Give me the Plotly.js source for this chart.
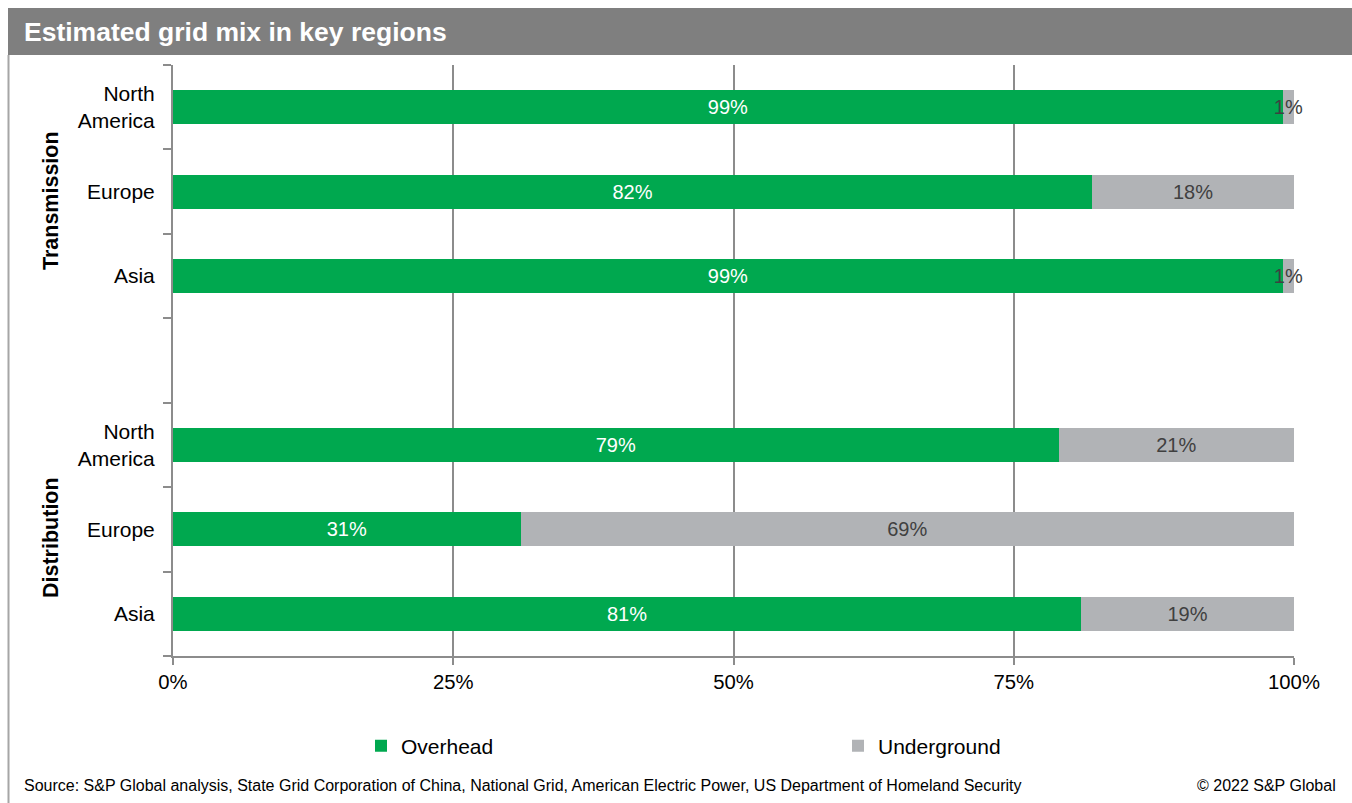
<!DOCTYPE html>
<html>
<head>
<meta charset="utf-8">
<script src="https://cdn.plot.ly/plotly-3.0.1.min.js"></script>
<style>
  html, body { margin: 0; padding: 0; background: #fff; }
  #chart { width: 1352px; height: 803px; }
</style>
</head>
<body>
<div id="chart"></div>
<script>
// Category keys (top to bottom) and their tick labels
const categories = ['T_NA', 'T_EU', 'T_AS', 'GAP', 'D_NA', 'D_EU', 'D_AS'];
const tickLabels = ['North<br>America', 'Europe', 'Asia', '', 'North<br>America', 'Europe', 'Asia'];
// Series values (%)
const overhead    = [99, 82, 99, null, 79, 31, 81];
const underground = [1, 18, 1, null, 21, 69, 19];
const seriesNames = ['Overhead', 'Underground'];
const groupLabels = ['Transmission', 'Distribution'];
const xTicks = [0, 25, 50, 75, 100];

const FONT = 'Liberation Sans, Arial, sans-serif';
const GREEN = '#00a84f';
const GREY = '#b1b3b6';

// pixel helpers -> paper coords
const W = 1352, H = 803, L = 173, R = 58, T = 65, B = 147;
const pw = W - L - R, ph = H - T - B;
const px = x => (x - L) / pw;
const py = y => (H - B - y) / ph;

const common = {
  type: 'bar', orientation: 'h', y: categories,
  textposition: 'inside', insidetextanchor: 'middle', constraintext: 'none',
  texttemplate: '%{x}%', textangle: 0, hoverinfo: 'skip', cliponaxis: false
};

const traces = [
  Object.assign({}, common, {
    name: seriesNames[0], x: overhead,
    marker: { color: GREEN, line: { width: 0 } },
    textfont: { family: FONT, size: 20, color: '#ffffff' },
    insidetextfont: { family: FONT, size: 20, color: '#ffffff' }
  }),
  Object.assign({}, common, {
    name: seriesNames[1], x: underground,
    marker: { color: GREY, line: { width: 0 } },
    textfont: { family: FONT, size: 20, color: '#404040' },
    insidetextfont: { family: FONT, size: 20, color: '#404040' }
  })
];

const layout = {
  width: W, height: H,
  margin: { l: L, r: R, t: T, b: B, pad: 0 },
  paper_bgcolor: '#ffffff', plot_bgcolor: '#ffffff',
  font: { family: FONT, size: 20, color: '#000000' },
  barmode: 'stack', bargap: 0.6,
  showlegend: true,
  title: {
    text: '<b>Estimated grid mix in key regions</b>',
    x: 24 / W, xanchor: 'left', xref: 'container',
    y: 1 - 32 / H, yanchor: 'middle', yref: 'container',
    font: { family: FONT, size: 26.5, color: '#ffffff' }
  },
  xaxis: {
    range: [0, 100], tickvals: xTicks, ticktext: xTicks.map(v => v + '%'),
    showgrid: true, gridcolor: '#8c8c8c', gridwidth: 2,
    zeroline: false, showline: true, linecolor: '#8c8c8c', linewidth: 2,
    ticks: 'outside', ticklen: 7, tickwidth: 2, tickcolor: '#8c8c8c',
    tickfont: { family: FONT, size: 20.3, color: '#000000' },
    fixedrange: true
  },
  yaxis: {
    type: 'category', categoryorder: 'array', categoryarray: categories,
    autorange: 'reversed',
    tickvals: categories, ticktext: tickLabels, tickson: 'boundaries',
    showgrid: false, zeroline: false,
    showline: true, linecolor: '#8c8c8c', linewidth: 2,
    ticks: 'outside', ticklen: 8, tickwidth: 2, tickcolor: '#8c8c8c',
    ticklabelstandoff: 12,
    tickfont: { family: FONT, size: 21, color: '#000000' },
    fixedrange: true
  },
  legend: {
    orientation: 'h', x: px(361), xanchor: 'left', y: py(746), yanchor: 'middle',
    font: { family: FONT, size: 21, color: '#000000' },
    entrywidth: 432, entrywidthmode: 'pixels',
    bgcolor: 'rgba(0,0,0,0)', traceorder: 'normal'
  },
  shapes: [
    { type: 'rect', xref: 'paper', yref: 'paper', x0: px(8), x1: px(1352), y0: py(55), y1: py(8),
      fillcolor: '#7f7f7f', line: { width: 0 }, layer: 'below' },
    { type: 'line', xref: 'paper', yref: 'paper', x0: px(8.5), x1: px(8.5), y0: py(55), y1: py(803),
      line: { color: '#a6a6a6', width: 2 } }
  ],
  annotations: [
    { text: '<b>' + groupLabels[0] + '</b>', xref: 'paper', yref: 'paper', x: px(51), y: py(201),
      textangle: -90, showarrow: false, xanchor: 'center', yanchor: 'middle',
      font: { family: FONT, size: 21.5, color: '#000000' } },
    { text: '<b>' + groupLabels[1] + '</b>', xref: 'paper', yref: 'paper', x: px(51), y: py(538),
      textangle: -90, showarrow: false, xanchor: 'center', yanchor: 'middle',
      font: { family: FONT, size: 21.5, color: '#000000' } },
    { text: 'Source: S&P Global analysis, State Grid Corporation of China, National Grid, American Electric Power, US Department of Homeland Security',
      xref: 'paper', yref: 'paper', x: px(22), y: py(785), xanchor: 'left', yanchor: 'middle',
      showarrow: false, font: { family: FONT, size: 16, color: '#000000' } },
    { text: '© 2022 S&P Global', xref: 'paper', yref: 'paper', x: px(1338), y: py(785),
      xanchor: 'right', yanchor: 'middle', showarrow: false,
      font: { family: FONT, size: 16, color: '#000000' } }
  ]
};

Plotly.newPlot('chart', traces, layout, { displayModeBar: false, staticPlot: true });
</script>
</body>
</html>
